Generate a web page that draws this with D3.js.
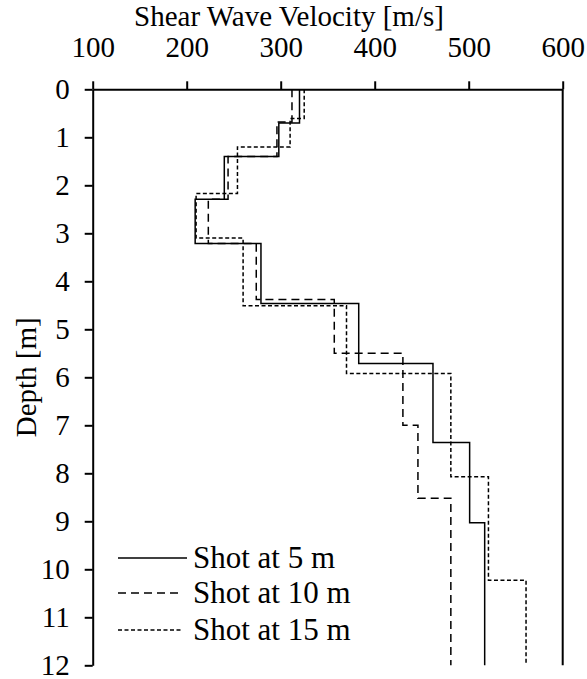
<!DOCTYPE html>
<html>
<head>
<meta charset="utf-8">
<script src="https://cdn.jsdelivr.net/npm/d3@7"></script>
<style>
  body{ margin:0; background:#fff; }
  .axis path, .axis line{ stroke:#000; stroke-width:2; }
</style>
</head>
<body>
<svg id="chart" width="587" height="679"></svg>
<script>
// layer boundaries [m] and velocities [m/s] of each profile
var shot5Depths = [0, 0.70, 1.40, 2.29, 3.21, 4.46, 5.71, 7.36, 9.03, 12];
var shot5Vs     = [320, 298, 240, 209, 279, 383, 462, 501, 517];

var shot10Depths = [0, 0.68, 1.40, 2.29, 3.21, 4.38, 5.50, 7.00, 8.52, 12];
var shot10Vs     = [312, 296, 244, 223, 274, 357, 430, 446, 481];

var shot15Depths = [0, 0.61, 1.20, 2.17, 3.10, 4.51, 5.92, 8.07, 10.23, 12];
var shot15Vs     = [325, 310, 254, 210, 260, 370, 481, 521, 561];

var seriesNames = ["Shot at 5 m", "Shot at 10 m", "Shot at 15 m"];
var xTicks = [100, 200, 300, 400, 500, 600];
var yTicks = [0, 1, 2, 3, 4, 5, 6, 7, 8, 9, 10, 11, 12];

var plot = {left: 92.7, right: 562.7, top: 89.3, bottom: 665.3};
var fontSize = 29;
var serif = "'Liberation Serif', 'Times New Roman', Times, serif";

var svg = d3.select("#chart").attr("font-family", serif);

var x = d3.scaleLinear().domain([100, 600]).range([plot.left, plot.right]);
var y = d3.scaleLinear().domain([0, 12]).range([plot.top, plot.bottom]);

// top axis
var xAxis = svg.append("g").attr("class", "axis")
    .attr("transform", "translate(0," + plot.top + ")")
    .call(d3.axisTop(x).tickValues(xTicks).tickSize(8).tickSizeOuter(0).tickFormat(d3.format("d")));
xAxis.attr("font-family", serif);
xAxis.selectAll("text").attr("font-size", fontSize).attr("fill", "#000").attr("dy", 0).attr("y", -32);

// left axis
var yAxis = svg.append("g").attr("class", "axis")
    .attr("transform", "translate(" + plot.left + ",0)")
    .call(d3.axisLeft(y).tickValues(yTicks).tickSize(8).tickSizeOuter(0).tickFormat(d3.format("d")));
yAxis.attr("font-family", serif);
yAxis.selectAll("text").attr("font-size", fontSize).attr("fill", "#000").attr("x", -23).attr("dy", "0.33em");
svg.selectAll(".axis .domain").attr("fill", "none");

// right frame line
svg.append("line")
    .attr("x1", x(600)).attr("x2", x(600))
    .attr("y1", y(0)).attr("y2", y(12))
    .attr("stroke", "#000").attr("stroke-width", 2);

// titles
svg.append("text")
    .attr("x", 289).attr("y", 26)
    .attr("text-anchor", "middle")
    .attr("font-size", fontSize)
    .text("Shear Wave Velocity [m/s]");

svg.append("text")
    .attr("transform", "translate(26," + (plot.top + plot.bottom) / 2 + ") rotate(-90)")
    .attr("text-anchor", "middle")
    .attr("dy", "0.35em")
    .attr("font-size", fontSize)
    .text("Depth [m]");

// step profiles
function steps(depths, vs){
  var pts = [];
  vs.forEach(function(v, i){
    pts.push([v, depths[i]]);
    pts.push([v, depths[i + 1]]);
  });
  return pts;
}

var series = [
  {name: seriesNames[0], pts: steps(shot5Depths, shot5Vs), dash: null, len: 69},
  {name: seriesNames[1], pts: steps(shot10Depths, shot10Vs), dash: "8,5", len: 61},
  {name: seriesNames[2], pts: steps(shot15Depths, shot15Vs), dash: "4,2.5", len: 64}
];

var line = d3.line()
    .x(function(d){ return x(d[0]); })
    .y(function(d){ return y(d[1]); });

svg.selectAll("path.profile")
    .data(series).enter()
    .append("path").classed("profile", true)
    .attr("d", function(d){ return line(d.pts); })
    .attr("fill", "none")
    .attr("stroke", "#000")
    .attr("stroke-width", 1.5)
    .attr("stroke-dasharray", function(d){ return d.dash; });

// legend
var legend = svg.append("g").attr("transform", "translate(118,558)");
var rows = legend.selectAll("g.row")
    .data(series).enter()
    .append("g").classed("row", true)
    .attr("transform", function(d, i){ return "translate(0," + [0, 35, 72][i] + ")"; });

rows.append("line")
    .attr("x1", 0).attr("x2", function(d){ return d.len; })
    .attr("y1", 0).attr("y2", 0)
    .attr("stroke", "#000")
    .attr("stroke-width", 1.5)
    .attr("stroke-dasharray", function(d){ return d.dash; });

rows.append("text")
    .attr("x", 75).attr("y", 0)
    .attr("dy", "0.33em")
    .attr("font-size", 31)
    .text(function(d){ return d.name; });
</script>
</body>
</html>
